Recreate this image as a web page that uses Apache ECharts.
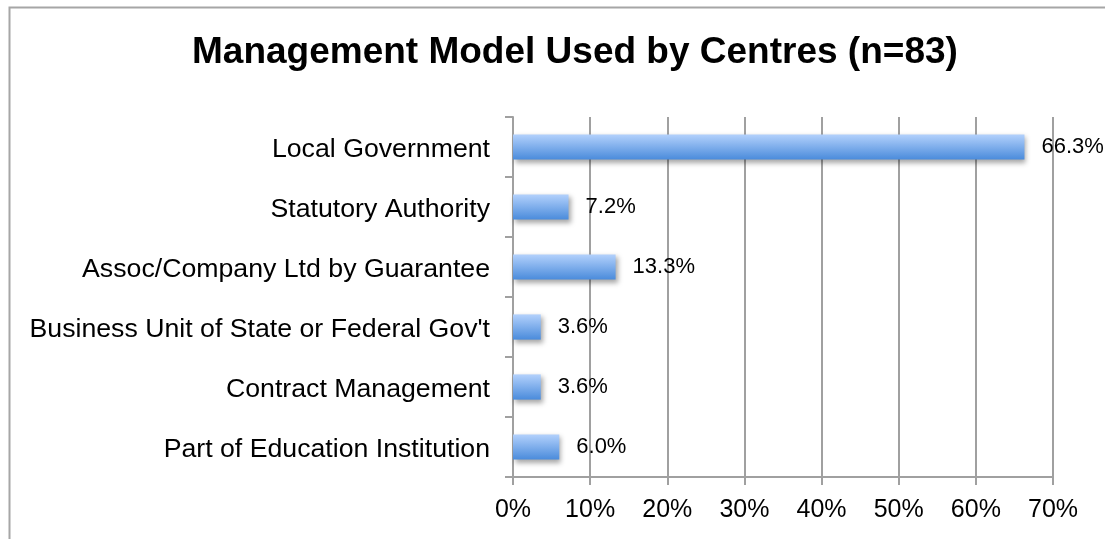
<!DOCTYPE html>
<html>
<head>
<meta charset="utf-8">
<style>
  html, body { margin: 0; padding: 0; background: #fff; }
  #chart { width: 1105px; height: 539px; }
</style>
<script src="https://cdn.jsdelivr.net/npm/echarts@6/dist/echarts.min.js"></script>
</head>
<body>
<div id="chart"></div>
<script>
// Management models reported by centres, share of responses (%)
const titleText = 'Management Model Used by Centres (n=83)';
const categories = [
  'Local Government',
  'Statutory Authority',
  'Assoc/Company Ltd by Guarantee',
  "Business Unit of State or Federal Gov't",
  'Contract Management',
  'Part of Education Institution'
];
const shares = [66.3, 7.2, 13.3, 3.6, 3.6, 6.0];
const axisMin = 0;
const axisMax = 70;
const axisStep = 10;

const font = '"Liberation Sans", Arial, Helvetica, sans-serif';
const chart = echarts.init(document.getElementById('chart'));

chart.setOption({
  backgroundColor: '#fff',
  animation: false,
  graphic: [{
    type: 'rect',
    shape: { x: 9.5, y: 7.5, width: 1200, height: 700 },
    style: { fill: 'none', stroke: '#a6a6a6', lineWidth: 2 },
    silent: true,
    z: -1
  }],
  title: {
    text: titleText,
    left: 187,
    top: 29,
    textStyle: { fontFamily: font, fontWeight: 'bold', fontSize: 37, color: '#000' }
  },
  grid: { left: 513, right: 52, top: 117, bottom: 62 },
  xAxis: {
    type: 'value',
    min: axisMin,
    max: axisMax,
    interval: axisStep,
    axisLine: { show: true, lineStyle: { color: '#a0a0a0', width: 2 } },
    axisTick: { show: true, length: 8, lineStyle: { color: '#a0a0a0', width: 2 } },
    splitLine: { show: true, lineStyle: { color: '#a0a0a0', width: 2 } },
    axisLabel: {
      formatter: '{value}%',
      fontFamily: font, fontSize: 25, color: '#000', margin: 21
    }
  },
  yAxis: {
    type: 'category',
    data: categories,
    inverse: true,
    axisLine: { show: true, lineStyle: { color: '#a0a0a0', width: 2 } },
    axisTick: { show: true, length: 8, lineStyle: { color: '#a0a0a0', width: 2 } },
    axisLabel: {
      margin: 23,
      formatter: v => '{cat|' + v + '}',
      rich: {
        cat: { fontFamily: font, fontSize: 26.7, color: '#000', padding: [6, 0, 0, 0] }
      }
    }
  },
  series: [{
    type: 'bar',
    data: shares,
    barWidth: '42%',
    itemStyle: {
      color: new echarts.graphic.LinearGradient(0, 0, 0, 1, [
        { offset: 0, color: '#b3d1fc' },
        { offset: 1, color: '#4a8bdb' }
      ]),
      shadowColor: 'rgba(0,0,0,0.35)',
      shadowBlur: 5,
      shadowOffsetX: 2,
      shadowOffsetY: 3
    },
    label: {
      show: true,
      position: 'right',
      distance: 17,
      formatter: p => p.value.toFixed(1) + '%',
      fontFamily: font, fontSize: 22, color: '#000'
    }
  }]
});
</script>
</body>
</html>
